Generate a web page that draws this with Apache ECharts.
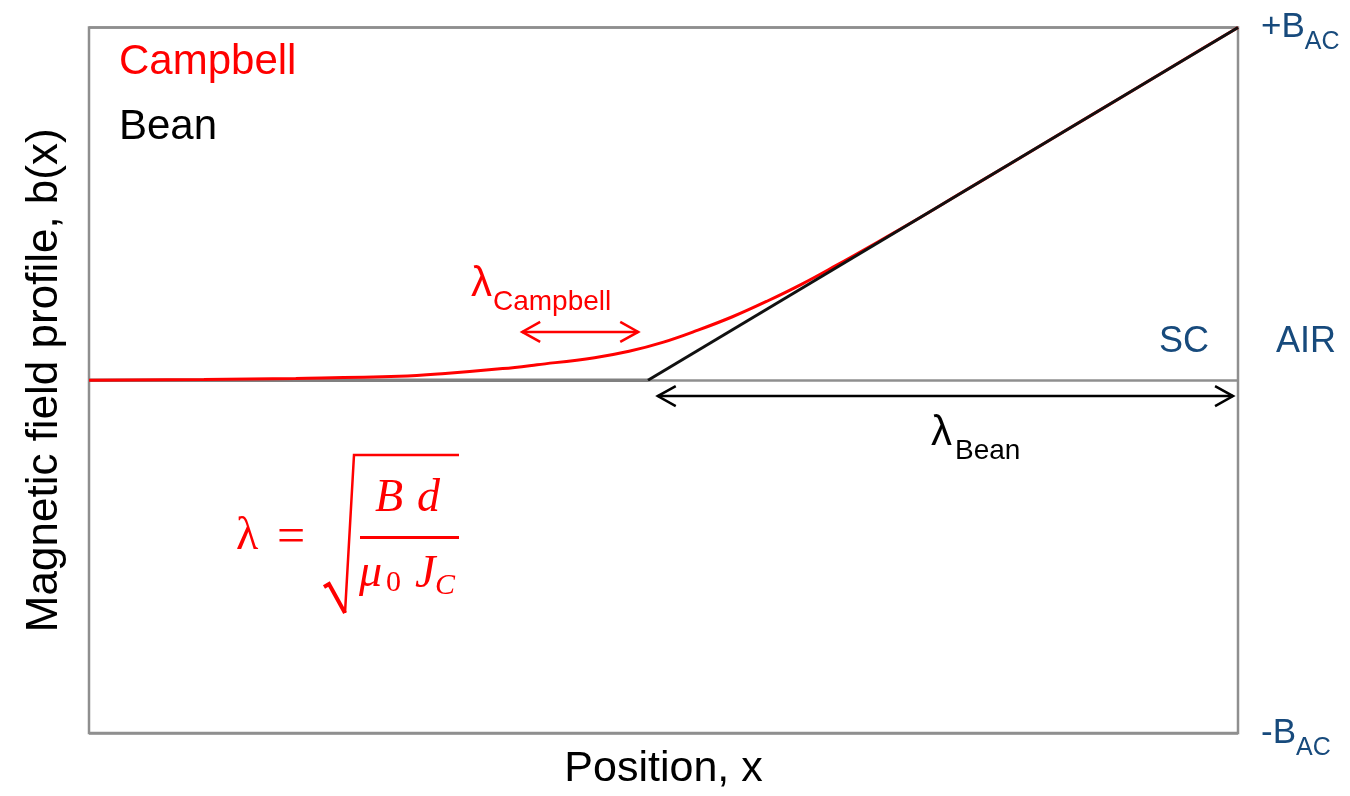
<!DOCTYPE html>
<html>
<head>
<meta charset="utf-8">
<script src="https://cdn.jsdelivr.net/npm/echarts@6/dist/echarts.min.js"></script>
<style>
html,body{margin:0;padding:0;background:#fff;}
#chart{width:1350px;height:796px;}
</style>
</head>
<body>
<div id="chart"></div>
<script>
// ---- data (normalised position x in [0,1], field b in [-1,1]) ----
const campbellX = [0, 0.10, 0.18, 0.27, 0.31, 0.36, 0.39, 0.44, 0.47, 0.50, 0.53, 0.56, 0.59, 0.62, 0.65, 0.68, 0.72, 0.76, 0.80, 0.85, 0.90, 0.95, 1.0];
const campbellB = [0, 0.002, 0.005, 0.011, 0.019, 0.033, 0.044, 0.064, 0.082, 0.108, 0.142, 0.180, 0.224, 0.272, 0.325, 0.380, 0.455, 0.533, 0.610, 0.708, 0.805, 0.903, 1.0];
const beanX = [0, 0.4865, 1.0];
const beanB = [0, 0, 1.0];
const arrowCampbell = [0.377, 0.137, 0.478, 0.137];
const arrowBean = [0.495, -0.045, 0.9957, -0.045];
const yTickLabels = { '1': ['+B', 'AC'], '0': null, '-1': ['-B', 'AC'] };
const seriesNames = ['Campbell', 'Bean'];

const RED = '#FF0000';
const BLUE = '#174A7C';
const GRAY = '#8f8f8f';
const SANS = 'Liberation Sans';
const SERIF = 'Liberation Serif';

const zip = (xs, ys) => xs.map((x, i) => [x, ys[i]]);
const beanPts = zip(beanX, beanB);

function arrowRender(color) {
  return function (params, api) {
    const p1 = api.coord([api.value(0), api.value(1)]);
    const p2 = api.coord([api.value(2), api.value(3)]);
    const h = 18, w = 10, lw = 2.5;
    return {
      type: 'group',
      children: [
        { type: 'line', shape: { x1: p1[0], y1: p1[1], x2: p2[0], y2: p2[1] }, style: { stroke: color, lineWidth: lw } },
        { type: 'polyline', shape: { points: [[p1[0] + h, p1[1] - w], [p1[0], p1[1]], [p1[0] + h, p1[1] + w]] }, style: { stroke: color, lineWidth: lw, fill: null } },
        { type: 'polyline', shape: { points: [[p2[0] - h, p2[1] - w], [p2[0], p2[1]], [p2[0] - h, p2[1] + w]] }, style: { stroke: color, lineWidth: lw, fill: null } }
      ]
    };
  };
}

function txt(text, x, y, size, color, family, opts) {
  opts = opts || {};
  const align = opts.align || 'left';
  return {
    type: 'text', x: x, y: y, z: 10,
    style: {
      text: text, fill: color,
      fontSize: size, fontFamily: family || SANS,
      fontStyle: opts.italic ? 'italic' : 'normal',
      textAlign: align, align: align,
      textVerticalAlign: 'middle', verticalAlign: 'middle'
    }
  };
}

const chart = echarts.init(document.getElementById('chart'), null, { renderer: 'canvas' });
const option = {
  animation: false,
  backgroundColor: '#fff',
  textStyle: { fontFamily: SANS },
  grid: { left: 89, right: 112, top: 25, bottom: 62, show: true, borderColor: GRAY, borderWidth: 2.5, backgroundColor: 'transparent' },
  legend: {
    orient: 'vertical', left: 114, top: 41, padding: 0, itemGap: 23, itemWidth: 0, itemHeight: 0,
    selectedMode: false, icon: 'none',
    textStyle: { fontSize: 42, fontFamily: SANS },
    data: [
      { name: seriesNames[0], icon: 'none', textStyle: { color: RED } },
      { name: seriesNames[1], icon: 'none', textStyle: { color: '#000' } }
    ]
  },
  xAxis: {
    type: 'value', min: 0, max: 1,
    axisLine: { show: false }, axisTick: { show: false }, axisLabel: { show: false }, splitLine: { show: false },
    name: 'Position, x', nameLocation: 'middle', nameGap: 15,
    nameTextStyle: { fontSize: 43, color: '#000', fontFamily: SANS }
  },
  yAxis: [
    {
      type: 'value', min: -1, max: 1, interval: 1,
      axisLine: { show: false }, axisTick: { show: false }, axisLabel: { show: false },
      splitLine: { show: true, lineStyle: { color: GRAY, width: 2.5 } },
      name: 'Magnetic field profile, b(x)', nameLocation: 'middle', nameRotate: 90, nameGap: 22,
      nameTextStyle: { fontSize: 44, color: '#000', fontFamily: SANS }
    },
    {
      type: 'value', min: -1, max: 1, interval: 1, position: 'right',
      axisLine: { show: false }, axisTick: { show: false }, splitLine: { show: false },
      axisLabel: {
        show: true, margin: 23, showMinLabel: true, showMaxLabel: true,
        formatter: function (v) {
          const t = yTickLabels[String(v)];
          return t ? '{b|' + t[0] + '}{s|' + t[1] + '}' : '';
        },
        rich: {
          b: { fontSize: 35, color: BLUE, lineHeight: 36, padding: [10, 0, 10, 0], fontFamily: SANS },
          s: { fontSize: 25, color: BLUE, lineHeight: 26, padding: [30, 0, 0, 0], fontFamily: SANS }
        }
      }
    }
  ],
  series: [
    {
      name: seriesNames[1], type: 'line', z: 2, symbol: 'none',
      data: beanPts.slice(0, 2),
      lineStyle: { color: '#808080', width: 3.5 }, itemStyle: { color: '#000' }
    },
    {
      name: seriesNames[0], type: 'line', z: 3, symbol: 'none', smooth: 0.4,
      data: zip(campbellX, campbellB),
      lineStyle: { color: RED, width: 3 }, itemStyle: { color: RED }
    },
    {
      name: seriesNames[1], type: 'line', z: 4, symbol: 'none',
      data: beanPts.slice(1),
      lineStyle: { color: '#111', width: 3 }, itemStyle: { color: '#000' }
    },
    {
      type: 'custom', z: 5, clip: false, renderItem: arrowRender(RED),
      encode: { x: [0, 2], y: [1, 3] }, data: [arrowCampbell]
    },
    {
      type: 'custom', z: 5, clip: false, renderItem: arrowRender('#000'),
      encode: { x: [0, 2], y: [1, 3] }, data: [arrowBean]
    }
  ],
  graphic: [
    txt('SC', 1184, 342, 36, BLUE, SANS, { align: 'center' }),
    txt('AIR', 1306, 342, 36, BLUE, SANS, { align: 'center' }),
    txt('λ', 471, 284, 42, RED),
    txt('Campbell', 493, 302, 28, RED),
    txt('λ', 931, 433, 42, '#000'),
    txt('Bean', 955, 451, 28, '#000'),
    // formula
    txt('λ', 236, 537, 46, RED, SERIF),
    txt('=', 277, 539, 50, RED, SERIF),
    txt('B', 375, 499, 46, RED, SERIF, { italic: true }),
    txt('d', 417, 499, 46, RED, SERIF, { italic: true }),
    txt('μ', 359, 574, 46, RED, SERIF, { italic: true }),
    txt('0', 386, 583, 30, RED, SERIF),
    txt('J', 415, 575, 46, RED, SERIF, { italic: true }),
    txt('C', 435, 586, 30, RED, SERIF, { italic: true }),
    { type: 'line', z: 10, shape: { x1: 360, y1: 537.5, x2: 459, y2: 537.5 }, style: { stroke: RED, lineWidth: 3 } },
    { type: 'polyline', z: 10, shape: { points: [[324, 587], [329, 584], [345, 613]] }, style: { stroke: RED, lineWidth: 4, fill: null } },
    { type: 'polyline', z: 10, shape: { points: [[345, 613], [354, 455], [459, 455]] }, style: { stroke: RED, lineWidth: 2.5, fill: null } }
  ]
};
chart.setOption(option);
</script>
</body>
</html>
